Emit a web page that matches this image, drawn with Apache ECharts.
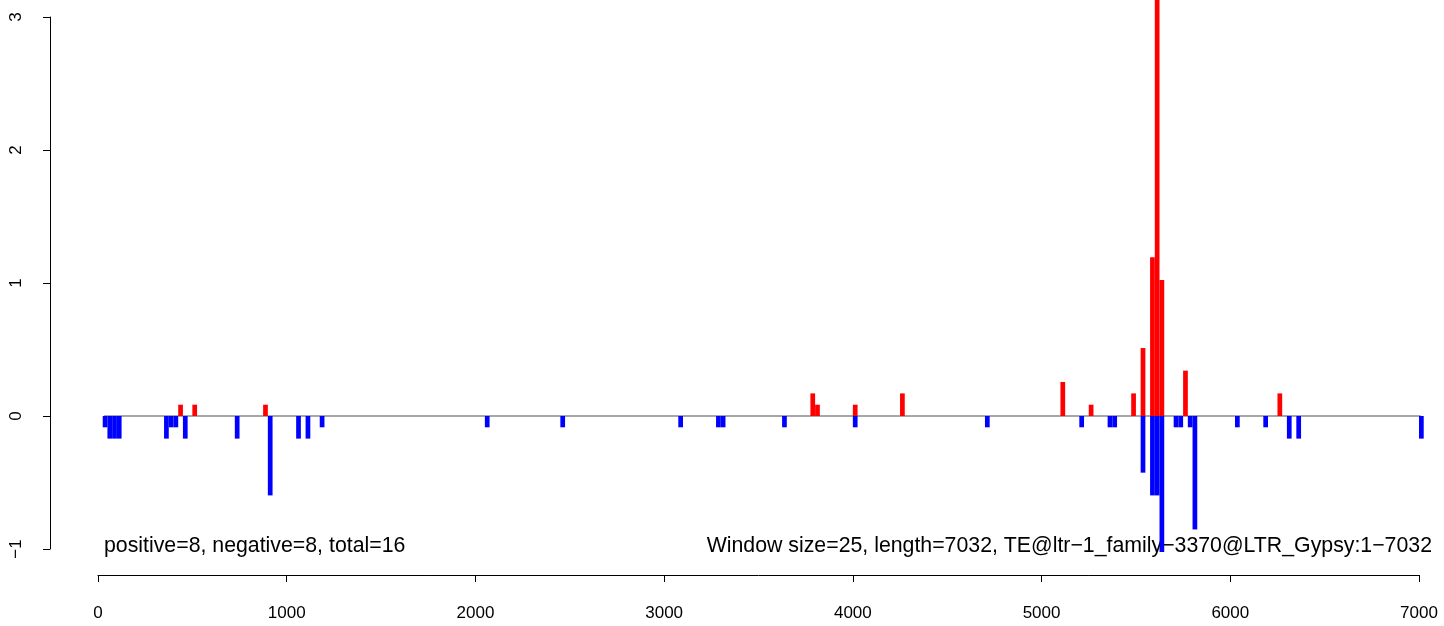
<!DOCTYPE html>
<html>
<head>
<meta charset="utf-8">
<script src="https://cdn.jsdelivr.net/npm/echarts@6/dist/echarts.min.js"></script>
<style>
html,body{margin:0;padding:0;background:#fff;}
#chart{width:1444px;height:626px;}
</style>
</head>
<body>
<div id="chart"></div>
<script>
// window size (bp) of each bin
const windowSize = 25;
// positive strand bins: window start positions and values
const posStart = [425, 500, 875, 3775, 3800, 4000, 4250, 5100, 5250, 5475, 5525, 5575, 5600, 5625, 5750, 6250];
const posValue = [0.085, 0.085, 0.085, 0.17, 0.085, 0.085, 0.17, 0.256, 0.085, 0.17, 0.511, 1.193, 3.2, 1.023, 0.341, 0.17];
// negative strand bins
const negStart = [25, 50, 75, 100, 350, 375, 400, 450, 725, 900, 1050, 1100, 1175, 2050, 2450, 3075, 3275, 3300, 3625, 4000, 4700, 5200, 5350, 5375, 5525, 5575, 5600, 5625, 5700, 5725, 5775, 5800, 6025, 6175, 6300, 6350, 7000];
const negValue = [-0.085, -0.17, -0.17, -0.17, -0.17, -0.085, -0.085, -0.17, -0.17, -0.597, -0.17, -0.17, -0.085, -0.085, -0.085, -0.085, -0.085, -0.085, -0.085, -0.085, -0.085, -0.085, -0.085, -0.085, -0.426, -0.597, -0.597, -1.023, -0.085, -0.085, -0.085, -0.853, -0.085, -0.085, -0.17, -0.17, -0.17];
// baseline extent (x range of the zero line)
const baselineX = [32, 7069];
// axis ticks
const xTicks = [0, 1000, 2000, 3000, 4000, 5000, 6000, 7000];
const yTicks = [-1, 0, 1, 2, 3];
// annotation texts
const leftText = 'positive=8, negative=8, total=16';
const rightText = 'Window size=25, length=7032, TE@ltr\u22121_family\u22123370@LTR_Gypsy:1\u22127032';

const FONT = '"Liberation Sans", Arial, Helvetica, sans-serif';

function barRender(color) {
  return function (params, api) {
    const s = api.value(0), v = api.value(1);
    const p0 = api.coord([s, 0]);
    const p1 = api.coord([s + windowSize, v]);
    const y = Math.min(p0[1], p1[1]);
    return {
      type: 'rect',
      shape: { x: p0[0], y: y, width: p1[0] - p0[0], height: Math.abs(p1[1] - p0[1]) },
      style: { fill: color }
    };
  };
}

const chart = echarts.init(document.getElementById('chart'), null, { renderer: 'canvas' });
chart.setOption({
  animation: false,
  backgroundColor: '#ffffff',
  grid: { left: 98, right: 25, top: 17, bottom: 77, containLabel: false },
  xAxis: {
    type: 'value',
    min: xTicks[0], max: xTicks[xTicks.length - 1], interval: 1000,
    position: 'bottom', offset: 26,
    axisLine: { show: true, onZero: false, lineStyle: { color: '#000', width: 1 } },
    axisTick: { show: true, length: 7, lineStyle: { color: '#000' } },
    axisLabel: { color: '#000', fontSize: 17, fontFamily: FONT, margin: 30,
      formatter: v => String(v) },
    splitLine: { show: false }
  },
  yAxis: {
    type: 'value',
    min: yTicks[0], max: yTicks[yTicks.length - 1], interval: 1,
    position: 'left', offset: 48,
    axisLine: { show: true, onZero: false, lineStyle: { color: '#000', width: 1 } },
    axisTick: { show: true, length: 7, lineStyle: { color: '#000' } },
    axisLabel: { color: '#000', fontSize: 17, fontFamily: FONT, margin: 25, rotate: 90,
      formatter: v => (v < 0 ? '\u2212' + Math.abs(v) : String(v)) },
    splitLine: { show: false }
  },
  series: [
    {
      type: 'line', data: [[baselineX[0], 0], [baselineX[1], 0]],
      symbol: 'none', silent: true, clip: false, z: 1,
      lineStyle: { color: '#8a8a8a', width: 1.5 }
    },
    {
      type: 'custom', renderItem: barRender('#ff0000'), clip: false, z: 2,
      data: posStart.map((s, i) => [s, posValue[i]])
    },
    {
      type: 'custom', renderItem: barRender('#0000ff'), clip: false, z: 2,
      data: negStart.map((s, i) => [s, negValue[i]])
    }
  ],
  graphic: [
    { type: 'text', x: 104, y: 546, silent: true,
      style: { text: leftText, fill: '#000', font: '21.3px ' + FONT, align: 'left', verticalAlign: 'middle' } },
    { type: 'text', x: 1432, y: 546, silent: true,
      style: { text: rightText, fill: '#000', font: '21.3px ' + FONT, align: 'right', verticalAlign: 'middle' } }
  ]
});
</script>
</body>
</html>
